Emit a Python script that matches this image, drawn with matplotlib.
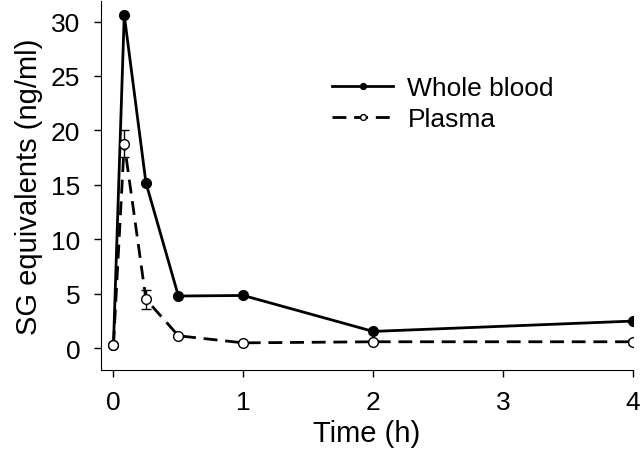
import matplotlib
matplotlib.use('Agg')
import matplotlib.pyplot as plt

plt.rcParams['font.family'] = ['Liberation Sans', 'DejaVu Sans']

# sampling times (h)
TIME = [0, 0.083, 0.25, 0.5, 1, 2, 4]

# SG equivalents (ng/ml)
WHOLE_BLOOD = [0.3, 30.6, 15.2, 4.8, 4.85, 1.55, 2.5]
PLASMA = [0.3, 18.8, 4.5, 1.15, 0.5, 0.6, 0.6]
PLASMA_ERR = [0.0, 1.25, 0.85, 0.1, 0.1, 0.1, 0.3]

X_TICKS = [0, 1, 2, 3, 4]
Y_TICKS = [0, 5, 10, 15, 20, 25, 30]


def main():
    fig = plt.figure(figsize=(6.4, 4.52), dpi=100)
    ax = fig.add_axes([0.158, 0.179, 0.831, 0.817])

    ax.plot(TIME, WHOLE_BLOOD, color='black', linestyle='-', linewidth=2,
            marker='o', markersize=7, markerfacecolor='black',
            markeredgecolor='black', label='Whole blood', zorder=2)
    # error bars drawn separately so the legend shows only the line
    ax.errorbar(TIME, PLASMA, yerr=PLASMA_ERR, fmt='none', ecolor='black',
                elinewidth=1, capsize=3.5, capthick=1, zorder=3)
    ax.plot(TIME, PLASMA, color='black', linestyle='--', dashes=(5, 2.8),
            linewidth=2, marker='o', markersize=7, markerfacecolor='white',
            markeredgecolor='black', markeredgewidth=1, label='Plasma',
            zorder=4)

    ax.set_xlim(-0.095, 4.0)
    ax.set_ylim(-2.0, 31.9)
    ax.set_xticks(X_TICKS)
    ax.set_yticks(Y_TICKS)
    ax.spines['top'].set_visible(False)
    ax.spines['right'].set_visible(False)
    ax.tick_params(labelsize=19, length=5, width=1, direction='out')
    ax.tick_params(axis='y', pad=10)
    ax.tick_params(axis='x', pad=9)
    ax.set_xlabel('Time (h)', fontsize=21, labelpad=4)
    ax.set_ylabel('SG equivalents (ng/ml)', fontsize=21, labelpad=6)

    ax.legend(loc='center left', bbox_to_anchor=(0.39, 0.722),
              frameon=False, fontsize=19, handlelength=2.3, markerscale=0.6,
              handletextpad=0.55, labelspacing=0.25)

    fig.savefig('out.png', dpi=100)


if __name__ == '__main__':
    main()
